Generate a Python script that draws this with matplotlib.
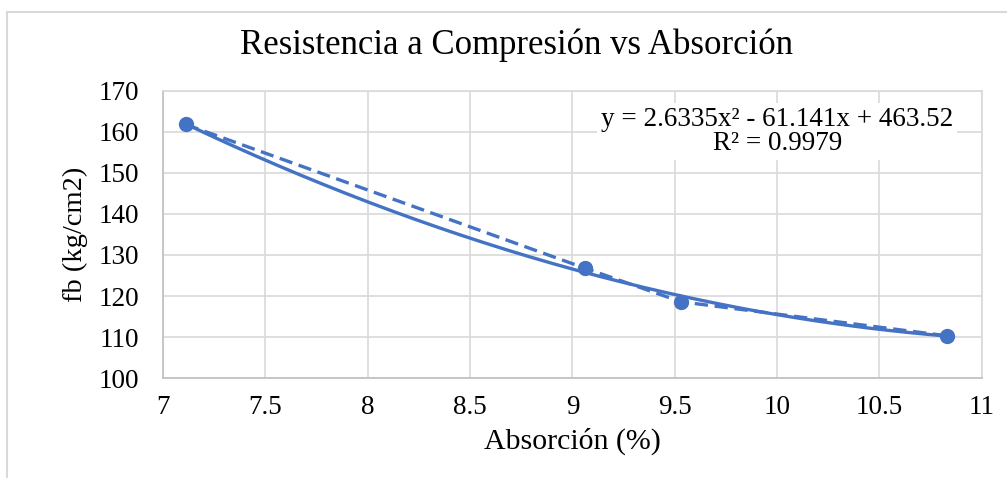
import numpy as np
import matplotlib.pyplot as plt
from matplotlib.patches import Rectangle

absorcion = [7.11, 9.06, 9.53, 10.83]
resistencia = [161.8, 126.8, 118.6, 110.3]
coef = [2.6335, -61.141, 463.52]  # tendencia polinómica (orden 2)

color = '#4472C4'
plt.rcParams['font.family'] = ['Liberation Serif', 'DejaVu Serif']

fig = plt.figure(figsize=(10.07, 4.78), dpi=100)
ax = fig.add_axes([0.162, 0.209, 0.813, 0.601])

# marco exterior del gráfico
fig.patches.append(Rectangle((0.007, -0.01), 1.0, 0.985, transform=fig.transFigure,
                             fill=False, edgecolor='#d9d9d9', linewidth=1.5))

ax.plot(absorcion, resistencia, color=color, linestyle=(0, (4, 2)), linewidth=2.4,
        marker='o', markersize=10, zorder=3)
xs = np.linspace(min(absorcion), max(absorcion), 200)
ax.plot(xs, np.polyval(coef, xs), color=color, linewidth=2.4, zorder=2)

ax.set_xlim(7, 11)
ax.set_ylim(100, 170)
ax.set_xticks([7, 7.5, 8, 8.5, 9, 9.5, 10, 10.5, 11])
ax.set_xticklabels(['7', '7.5', '8', '8.5', '9', '9.5', '10', '10.5', '11'])
ax.set_yticks(range(100, 171, 10))
ax.grid(True, color='#d9d9d9', linewidth=1.2)
ax.set_axisbelow(True)
for s in ['top', 'right']:
    ax.spines[s].set_color('#d9d9d9')
for s in ['left', 'bottom']:
    ax.spines[s].set_color('#bfbfbf')
for s in ax.spines.values():
    s.set_linewidth(1.2)
ax.tick_params(length=0, labelsize=19.5)
ax.tick_params(axis='x', pad=12)
ax.tick_params(axis='y', pad=17)

fig.text(0.513, 0.905, 'Resistencia a Compresión vs Absorción', fontsize=25,
         ha='center', va='center')
ax.set_xlabel('Absorción (%)', fontsize=21.5, labelpad=6)
ax.set_ylabel('fb (kg/cm2)', fontsize=20.5, labelpad=8)

ax.text(10.0, 160.0, 'y = 2.6335x² - 61.141x + 463.52\nR² = 0.9979', ha='center', va='center',
        fontsize=19.5, linespacing=0.95,
        bbox=dict(facecolor='white', edgecolor='none', pad=3), zorder=4)

fig.savefig('out.png', dpi=100)
